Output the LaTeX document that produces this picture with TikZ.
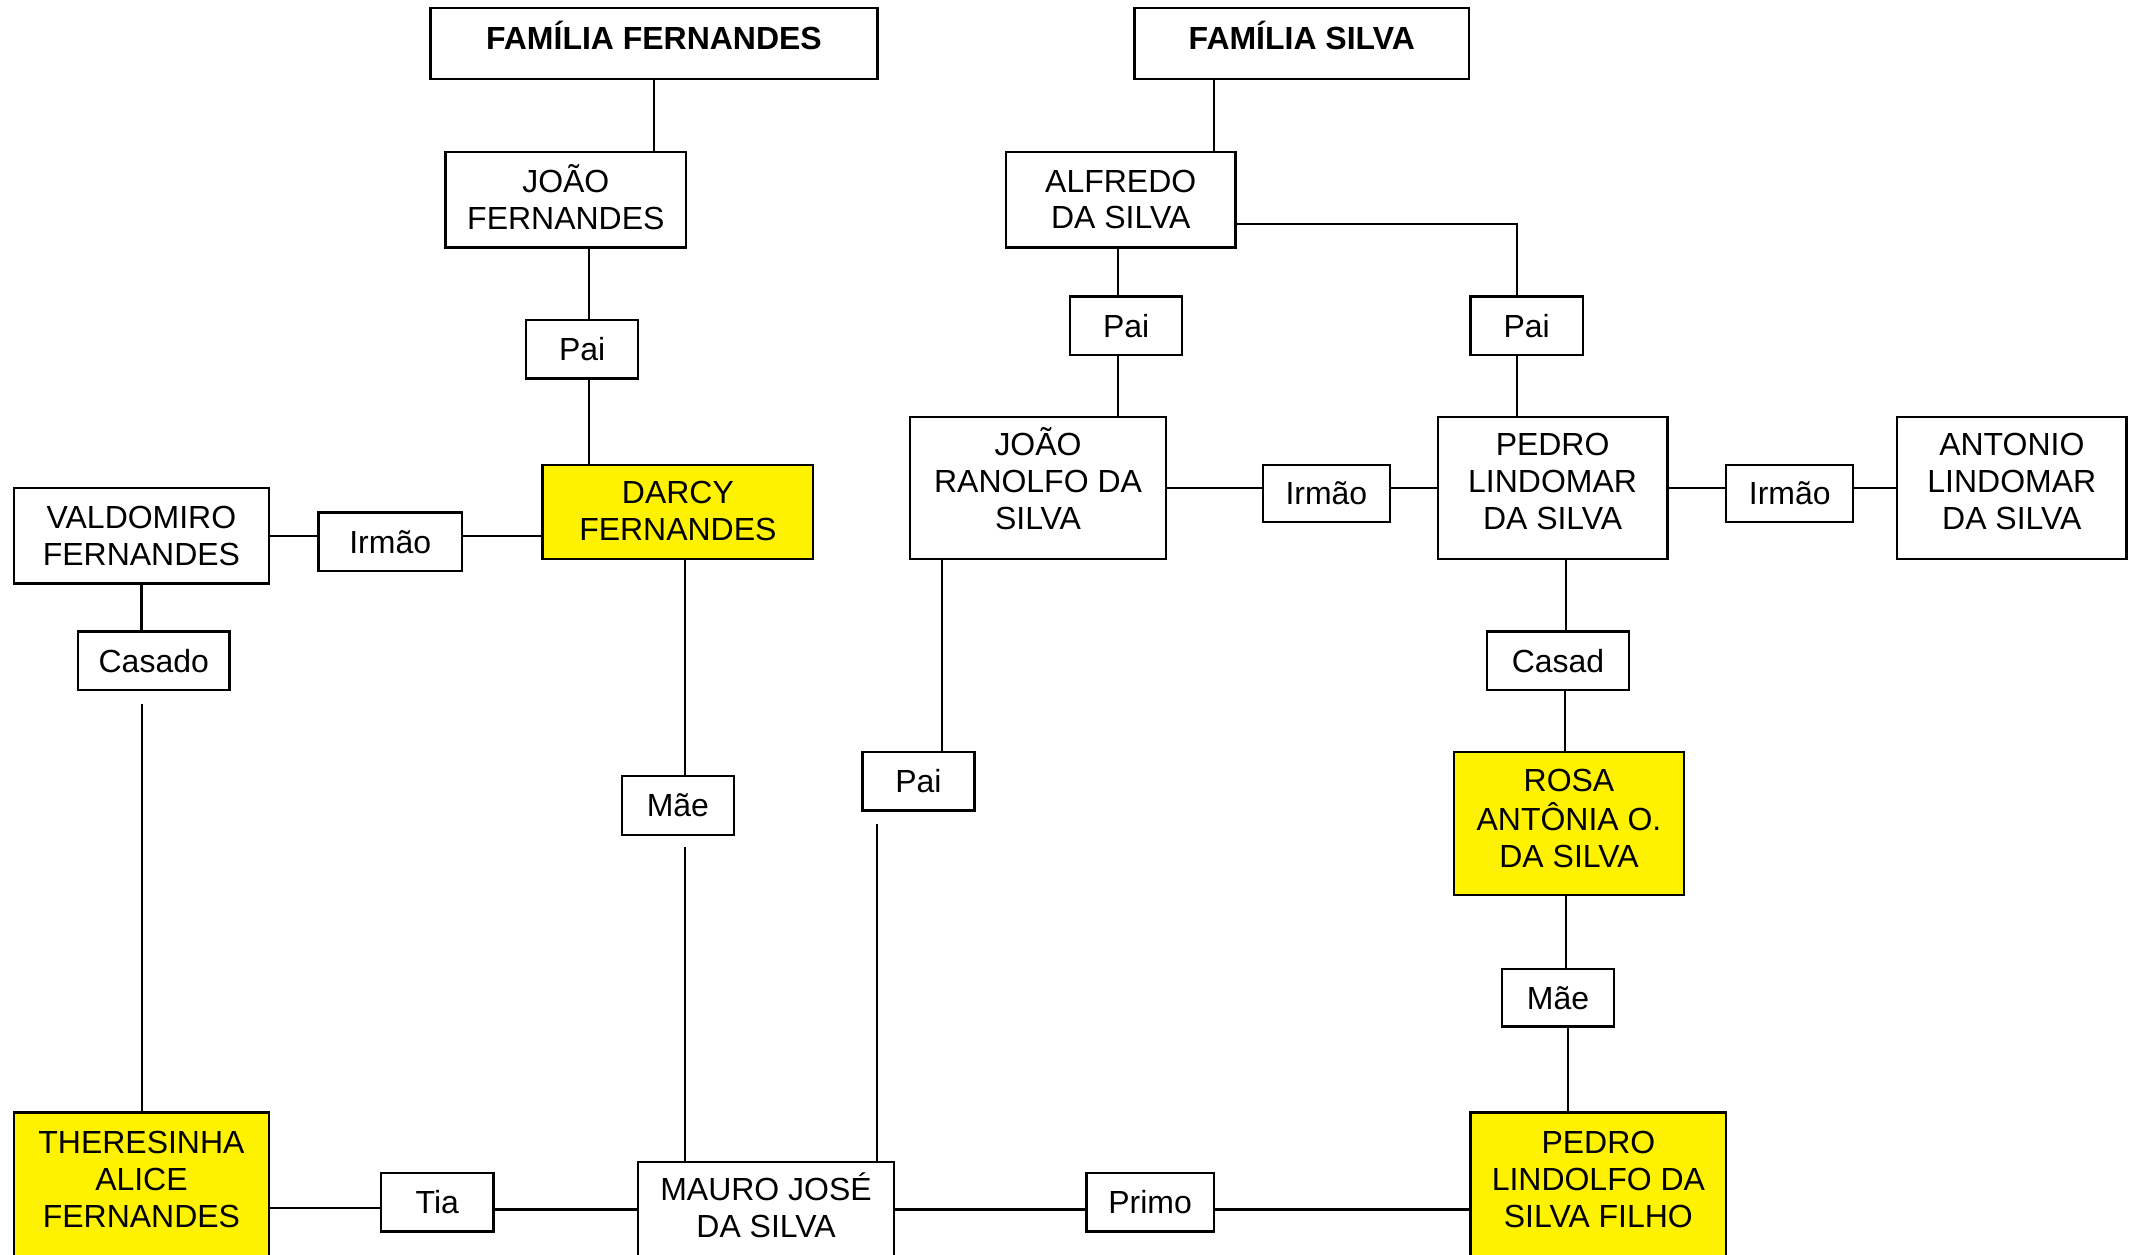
\documentclass[tikz,border=0pt]{standalone}
\usepackage{fontspec}
\setmainfont{Liberation Sans}
\usetikzlibrary{positioning}
\newlength{\pxu}
\setlength{\pxu}{0.013667cm}
% raise text inside a box, keeping its size
\newcommand{\lifted}[2]{\raisebox{#1\pxu}[\height][\depth]{\begin{tabular}{@{}c@{}}#2\end{tabular}}}

\begin{document}
\begin{tikzpicture}[
    x=\pxu, y=-\pxu,
    box/.style={draw, line width=0.65pt, fill=#1, align=center, inner sep=0pt,
                font=\fontsize{9.1}{10.5}\selectfont},
    box/.default=white,
    sz/.style 2 args={minimum width=#1*\pxu, minimum height=#2*\pxu},
    link/.style={line width=0.6pt},
  ]
  \useasboundingbox (0,0) rectangle (1568,918);
  \fill[white] (0,0) rectangle (1568,918);
  \clip (0,0) rectangle (1568,918);

  % Families
  \node[box, sz={327}{52}] (famF) at (478.5,32) {\lifted{2}{\bfseries FAMÍLIA FERNANDES}};
  \node[box, sz={245}{52}] (famS) at (952.5,32) {\lifted{2}{\bfseries FAMÍLIA SILVA}};

  % Fernandes side
  \node[box, sz={176}{70}] (joaoF) at (414,146) {\lifted{-2}{JOÃO\\FERNANDES}};
  \node[box, sz={82}{43}] (paiF) at (426,255.5) {Pai};
  \node[box=yellow, sz={198}{69}] (darcy) at (496,374.5) {\lifted{-2}{DARCY\\FERNANDES}};
  \node[box, sz={187}{70}] (valdomiro) at (103.5,392) {VALDOMIRO\\FERNANDES};
  \node[box, sz={105}{43}] (irmaoV) at (285.5,396.5) {Irmão};
  \node[box, sz={111}{43}] (casado) at (112.5,483.5) {Casado};
  \node[box, sz={82}{43}] (maeD) at (496,589.5) {Mãe};

  % Silva side
  \node[box, sz={168}{70}] (alfredo) at (820,146) {ALFREDO\\DA SILVA};
  \node[box, sz={82}{43}] (paiA) at (824,238.5) {Pai};
  \node[box, sz={82}{43}] (paiP) at (1117,238.5) {Pai};
  \node[box, sz={187}{104}] (ranolfo) at (759.5,357) {\lifted{3}{JOÃO\\RANOLFO DA\\SILVA}};
  \node[box, sz={93}{42}] (irmaoR) at (970.5,361) {Irmão};
  \node[box, sz={168}{104}] (pedroL) at (1136,357) {\lifted{2}{PEDRO\\LINDOMAR\\DA SILVA}};
  \node[box, sz={93}{42}] (irmaoP) at (1309.5,361) {Irmão};
  \node[box, sz={168}{104}] (antonio) at (1472,357) {\lifted{2}{ANTONIO\\LINDOMAR\\DA SILVA}};
  \node[box, sz={104}{43}] (casad) at (1140,483.5) {Casad};
  \node[box, sz={82}{43}] (paiR) at (672,571.5) {Pai};
  \node[box=yellow, sz={168}{105}] (rosa) at (1148,602.5) {\lifted{1}{ROSA\\ANTÔNIA O.\\DA SILVA}};
  \node[box, sz={82}{42}] (maeR) at (1140,730) {Mãe};

  % Bottom row
  \node[box=yellow, sz={187}{105}] (theresinha) at (103.5,866.5) {\lifted{1}{THERESINHA\\ALICE\\FERNANDES}};
  \node[box, sz={82}{43}] (tia) at (320,879.5) {Tia};
  \node[box, sz={187}{70}] (mauro) at (560.5,885) {\lifted{-1}{MAURO JOSÉ\\DA SILVA}};
  \node[box, sz={93}{43}] (primo) at (841.5,879.5) {Primo};
  \node[box=yellow, sz={187}{105}] (pedroF) at (1169.5,866.5) {\lifted{1}{PEDRO\\LINDOLFO DA\\SILVA FILHO}};

  % loose line ends
  \coordinate (casadoEnd) at (104,515);
  \coordinate (maeDEnd) at (501,620);
  \coordinate (paiREnd) at (642,603);

  % Fernandes links
  \draw[link] (famF.south) -- (famF.south |- joaoF.north);
  \draw[link] ([xshift=5*\pxu]paiF.north) -- ([xshift=5*\pxu]paiF.north |- joaoF.south);
  \draw[link] ([xshift=5*\pxu]paiF.south) -- ([xshift=5*\pxu]paiF.south |- darcy.north);
  \draw[link] (valdomiro.east) -- (valdomiro.east -| irmaoV.west);
  \draw[link] (irmaoV.east |- valdomiro.east) -- (darcy.west |- valdomiro.east);
  \draw[link] (valdomiro.south) -- (valdomiro.south |- casado.north);
  \draw[link] (casadoEnd) -- (casadoEnd |- theresinha.north);
  \draw[link] ([xshift=5*\pxu]darcy.south) -- ([xshift=5*\pxu]darcy.south |- maeD.north);
  \draw[link] (maeDEnd) -- (maeDEnd |- mauro.north);

  % Silva links
  \draw[link] ([xshift=-64.5*\pxu]famS.south) -- ([xshift=-64.5*\pxu]famS.south |- alfredo.north);
  \draw[link] ([xshift=-6*\pxu]paiA.north) -- ([xshift=-6*\pxu]paiA.north |- alfredo.south);
  \draw[link] ([xshift=-6*\pxu]paiA.south) -- ([xshift=-6*\pxu]paiA.south |- ranolfo.north);
  \draw[link] ([yshift=-18*\pxu]alfredo.east) -| ([xshift=-7*\pxu]paiP.north);
  \draw[link] ([xshift=-7*\pxu]paiP.south) -- ([xshift=-7*\pxu]paiP.south |- pedroL.north);
  \draw[link] (ranolfo.east) -- (ranolfo.east -| irmaoR.west);
  \draw[link] (irmaoR.east |- ranolfo.east) -- (pedroL.west);
  \draw[link] (pedroL.east) -- (pedroL.east -| irmaoP.west);
  \draw[link] (irmaoP.east |- pedroL.east) -- (antonio.west);
  \draw[link] ([xshift=-70.5*\pxu]ranolfo.south) -- ([xshift=-70.5*\pxu]ranolfo.south |- paiR.north);
  \draw[link] (paiREnd) -- (paiREnd |- mauro.north);
  \draw[link] ([xshift=10*\pxu]pedroL.south) -- ([xshift=10*\pxu]pedroL.south |- casad.north);
  \draw[link] ([xshift=5*\pxu]casad.south) -- ([xshift=5*\pxu]casad.south |- rosa.north);
  \draw[link] ([xshift=-2*\pxu]rosa.south) -- ([xshift=-2*\pxu]rosa.south |- maeR.north);
  \draw[link] ([xshift=7*\pxu]maeR.south) -- ([xshift=7*\pxu]maeR.south |- pedroF.north);

  % Bottom links
  \draw[link] ([yshift=-17.5*\pxu]theresinha.east) -- ([yshift=-17.5*\pxu]theresinha.east -| tia.west);
  \draw[link] (tia.east |- mauro.west) -- (mauro.west);
  \draw[link] (mauro.east) -- (mauro.east -| primo.west);
  \draw[link] (primo.east |- mauro.east) -- (mauro.east -| pedroF.west);

\end{tikzpicture}
\end{document}
